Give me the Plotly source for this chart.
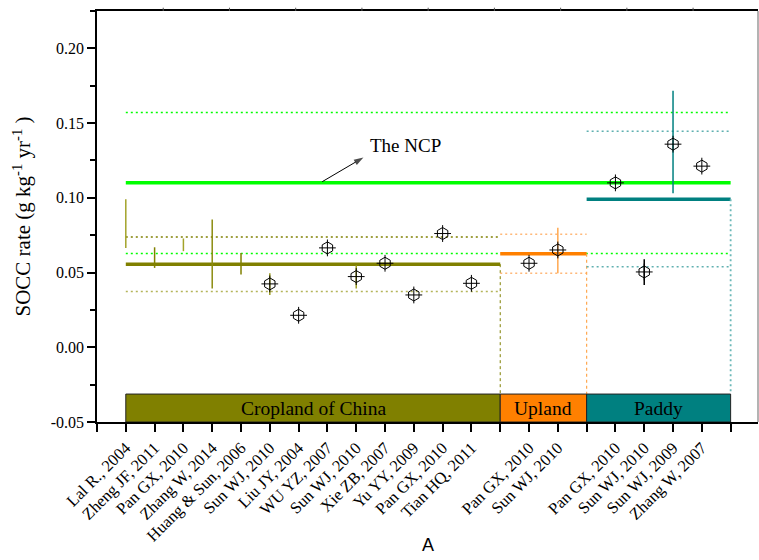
import plotly.graph_objects as go

# ---- study labels ----
crop_labels = ["Lal R., 2004", "Zheng JF, 2011", "Pan GX, 2010", "Zhang W, 2014",
               "Huang & Sun, 2006", "Sun WJ, 2010", "Liu JY, 2004", "WU YZ, 2007",
               "Sun WJ, 2010", "Xie ZB, 2007", "Yu YY, 2009", "Pan GX, 2010",
               "Tian HQ, 2011"]
upland_labels = ["Pan GX, 2010", "Sun WJ, 2010"]
paddy_labels = ["Pan GX, 2010", "Sun WJ, 2010", "Sun WJ, 2009", "Zhang W, 2007"]

# ---- SOCC rates (g kg-1 yr-1); None = range only / no interval ----
crop_rate = [None, None, None, None, None, 0.0424, 0.0214, 0.0665, 0.0473,
             0.0562, 0.0350, 0.0761, 0.0428]
crop_low = [0.0665, 0.0531, 0.0643, 0.0393, 0.0487, 0.0350, None, None, 0.0393,
            None, None, None, None]
crop_high = [0.0991, 0.0669, 0.0728, 0.0855, 0.0631, 0.0495, None, None, 0.0549,
             None, None, None, None]

upland_rate = [0.0562, 0.0651]
upland_low = [None, 0.0495]
upland_high = [None, 0.0800]

paddy_rate = [0.1100, 0.0504, 0.1359, 0.1212]
paddy_low = [None, 0.0417, 0.1031, None]
paddy_high = [None, 0.0589, 0.1716, None]

# ---- group means and intervals ----
ncp_mean, ncp_lo, ncp_hi = 0.110, 0.0627, 0.1571
crop_mean, crop_lo, crop_hi = 0.0556, 0.0373, 0.0738
upland_mean, upland_lo, upland_hi = 0.0625, 0.0495, 0.0756
paddy_mean, paddy_lo, paddy_hi = 0.0991, 0.0538, 0.1446

group_names = ["Cropland of China", "Upland", "Paddy"]

# ---- colours ----
OLIVE, ORANGE, TEAL, GREEN = "#808000", "#ff8000", "#008080", "#00ff00"
crop_bar_colors = ["#a3a32a", "#808000", "#a3a32a", "#8c8c10", "#808000",
                   "#9a9a20", None, None, "#9a9a20", None, None, None, None]
upland_bar_colors = [None, "#ffa850"]
paddy_bar_colors = [None, "#000000", TEAL, None]

# ---- layout of groups along x ----
crop_x = list(range(1, len(crop_labels) + 1))
crop_end = crop_x[-1] + 1
upland_x = [crop_end + 1 + i for i in range(len(upland_labels))]
upland_end = upland_x[-1] + 1
paddy_x = [upland_end + 1 + i for i in range(len(paddy_labels))]
paddy_end = paddy_x[-1] + 1
BOX_TOP = -0.0313

fig = go.Figure()


def hline(x0, x1, y, color, width, dash="solid"):
    fig.add_trace(go.Scatter(x=[x0, x1], y=[y, y], mode="lines",
                             line=dict(color=color, width=width, dash=dash),
                             hoverinfo="skip", showlegend=False))


def vline(x, y0, y1, color, width, dash="solid"):
    fig.add_trace(go.Scatter(x=[x, x], y=[y0, y1], mode="lines",
                             line=dict(color=color, width=width, dash=dash),
                             hoverinfo="skip", showlegend=False))


DOT = "2px,3px"

# NCP interval
hline(1, paddy_end, ncp_hi, GREEN, 1.5, DOT)
hline(1, paddy_end, ncp_lo, GREEN, 1.5, DOT)

# Cropland of China
hline(1, crop_end, crop_hi, OLIVE, 1.3, DOT)
hline(1, crop_end, crop_lo, "#b4b45a", 1.5, DOT)
hline(1, crop_end, crop_mean, OLIVE, 3.5)
vline(crop_end, crop_mean, BOX_TOP, OLIVE, 1, "3px,3px")

# Upland
hline(crop_end, upland_end, upland_hi, "#ffb878", 1.5, DOT)
hline(crop_end, upland_end, upland_lo, "#ffb878", 1.5, DOT)
hline(crop_end, upland_end, upland_mean, ORANGE, 3.5)
vline(upland_end, upland_mean, BOX_TOP, "#ffa850", 1.2, "3px,3px")

# Paddy
hline(upland_end, paddy_end, paddy_hi, "#5fb0b0", 1.5, DOT)
hline(upland_end, paddy_end, paddy_lo, "#5fb0b0", 1.5, DOT)
hline(upland_end, paddy_end, paddy_mean, TEAL, 3.5)
vline(paddy_end, paddy_mean, BOX_TOP, "#6ab8b8", 1.8, DOT)

# NCP mean drawn on top
hline(1, paddy_end, ncp_mean, GREEN, 3.5)

# study intervals
for xs, lows, highs, cols in [(crop_x, crop_low, crop_high, crop_bar_colors),
                              (upland_x, upland_low, upland_high, upland_bar_colors),
                              (paddy_x, paddy_low, paddy_high, paddy_bar_colors)]:
    for x, lo, hi, c in zip(xs, lows, highs, cols):
        if lo is not None:
            vline(x, lo, hi, c, 1.5)

# study rates: open hexagon with a cross
all_x = crop_x + upland_x + paddy_x
all_rate = crop_rate + upland_rate + paddy_rate
for sym in ["hexagon-open", "cross-thin-open"]:
    fig.add_trace(go.Scatter(x=all_x, y=all_rate, mode="markers",
                             marker=dict(symbol=sym, size=12, color="black",
                                         line=dict(color="black", width=1)),
                             hoverinfo="skip", showlegend=False))

# pointer from the NCP mean line towards its label
fig.add_trace(go.Scatter(x=[7.82, 9.25], y=[0.1108, 0.127], mode="lines+markers",
                         line=dict(color="black", width=1),
                         marker=dict(symbol=["circle", "arrow"], size=[0, 10],
                                     angleref="previous", color="black",
                                     line=dict(width=0)),
                         hoverinfo="skip", showlegend=False))

# group boxes along the bottom
spans = [(1, crop_end, OLIVE), (crop_end, upland_end, ORANGE), (upland_end, paddy_end, TEAL)]
annotations = []
for (x0, x1, col), name in zip(spans, group_names):
    fig.add_shape(type="rect", xref="x", yref="y", x0=x0, x1=x1, y0=-0.05, y1=BOX_TOP,
                  fillcolor=col, line=dict(color="#222222", width=1), layer="above")
    annotations.append(dict(x=(x0 + x1) / 2, y=(-0.05 + BOX_TOP) / 2, xref="x", yref="y",
                            text=name, showarrow=False,
                            font=dict(family="Liberation Serif", size=19.5, color="black")))

annotations.append(dict(x=10.72, y=0.1352, xref="x", yref="y", text="The NCP",
                        showarrow=False,
                        font=dict(family="Liberation Serif", size=19, color="black")))

# x-axis title
annotations.append(dict(x=0.5, y=-0.299, xref="paper", yref="paper", text="A",
                        showarrow=False, yanchor="middle",
                        font=dict(family="Liberation Sans", size=18, color="black")))

# frame: small ticks along the top edge and a grey right edge
for i in range(1, 10):
    fig.add_shape(type="line", xref="paper", yref="paper", x0=i / 9.98, x1=i / 9.98,
                  y0=1, y1=1.008, line=dict(color="#555555", width=1))
fig.add_shape(type="line", xref="paper", yref="paper", x0=1, x1=1, y0=0, y1=1,
              line=dict(color="#9a9a9a", width=1.5))

# labelled ticks at studies, plain ticks at group boundaries
label_x = crop_x + upland_x + paddy_x
label_text = crop_labels + upland_labels + paddy_labels
boundary_x = [0, crop_end, upland_end, paddy_end]

ytickvals = [-0.05, 0.0, 0.05, 0.10, 0.15, 0.20]
yticktext = ["-0.05", "0.00", "0.05", "0.10", "0.15", "0.20"]

fig.update_layout(
    width=759, height=560,
    margin=dict(l=97, r=1, t=11, b=138),
    paper_bgcolor="white", plot_bgcolor="white",
    showlegend=False,
    annotations=annotations,
    xaxis=dict(range=[0, 22.95], tickvals=label_x, ticktext=label_text, tickangle=-45,
               ticks="outside", ticklen=8, tickwidth=1.5, tickcolor="black",
               minor=dict(tickvals=boundary_x, ticks="outside", ticklen=8,
                          tickwidth=1.5, tickcolor="black"),
               showline=True, mirror=True, linecolor="black", linewidth=1.5,
               showgrid=False, zeroline=False,
               tickfont=dict(family="Liberation Serif", size=16.5, color="black")),
    yaxis=dict(range=[-0.05, 0.225], tickvals=ytickvals, ticktext=yticktext,
               ticks="outside", ticklen=8, tickwidth=1.5, tickcolor="black",
               minor=dict(tickvals=[-0.025, 0.025, 0.075, 0.125, 0.175, 0.225],
                          ticks="outside", ticklen=5, tickcolor="black", tickwidth=1.5),
               showline=True, linecolor="black", linewidth=1.5, showgrid=False,
               zeroline=False,
               tickfont=dict(family="Liberation Serif", size=16, color="black"),
               title=dict(text="SOCC rate (g kg<sup>-1</sup> yr<sup>-1</sup> )",
                          font=dict(family="Liberation Serif", size=21, color="black"),
                          standoff=14)),
)

fig.write_html("out.html")
